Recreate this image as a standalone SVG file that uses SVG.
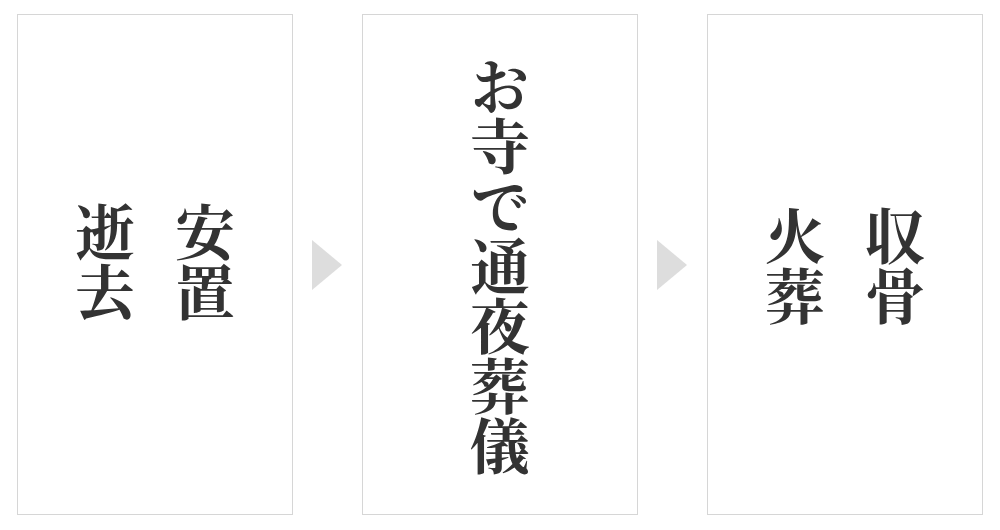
<svg xmlns="http://www.w3.org/2000/svg" width="1000" height="530" viewBox="0 0 1000 530">
<style>
.box{fill:#ffffff;stroke:#d6d6d6;stroke-width:1}
.lbl{font-family:"Noto Serif CJK JP","Noto Sans CJK JP",serif;font-weight:700;font-size:60px;fill:#333333;writing-mode:vertical-rl;text-orientation:upright;text-anchor:middle;dominant-baseline:central}
.arrow{fill:#dddddd}
</style>
<rect width="1000" height="530" fill="#ffffff"/>
<g id="node-anchi">
<rect class="box" x="17.5" y="14.5" width="275" height="500"/>
<text class="lbl" x="205" y="262">安置</text>
<text class="lbl" x="105" y="262">逝去</text>
</g>
<g id="node-otera">
<rect class="box" x="362.5" y="14.5" width="275" height="500"/>
<text class="lbl" x="500" y="266">お寺で通夜葬儀</text>
</g>
<g id="node-kasou">
<rect class="box" x="707.5" y="14.5" width="275" height="500"/>
<text class="lbl" x="895" y="266">収骨</text>
<text class="lbl" x="795" y="266">火葬</text>
</g>
<g id="connectors">
<polygon class="arrow" points="312,240 342,265 312,290"/>
<polygon class="arrow" points="657,240 687,265 657,290"/>
</g>
</svg>
